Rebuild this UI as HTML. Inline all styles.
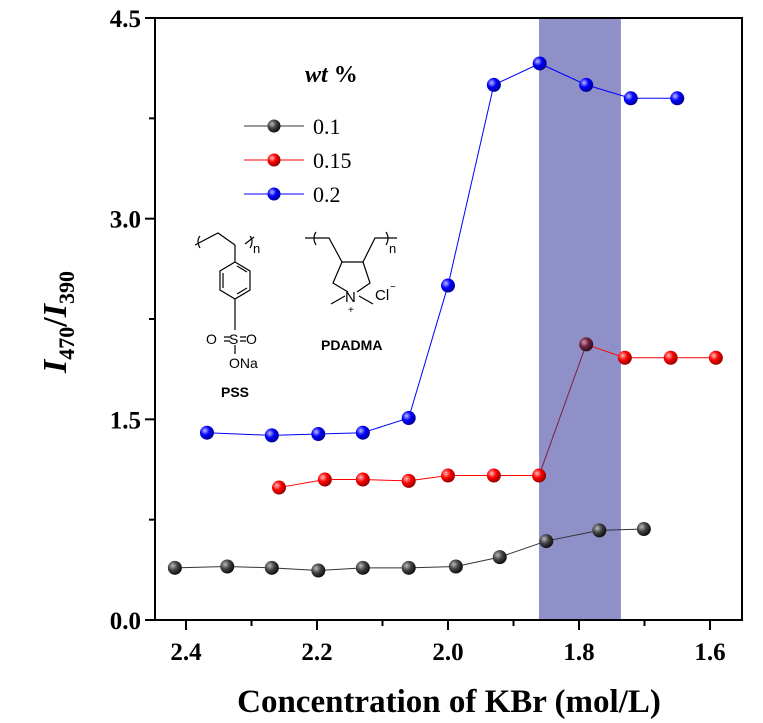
<!DOCTYPE html>
<html><head><meta charset="utf-8"><style>
body{margin:0;background:#fff;}
svg{display:block;font-family:"Liberation Serif",serif;}
.st{font-family:"Liberation Sans",sans-serif;}
</style></head><body>
<svg id="chart" width="763" height="723" viewBox="0 0 763 723" xmlns="http://www.w3.org/2000/svg">
<defs>
<radialGradient id="gk" cx="35%" cy="35%" r="65%"><stop offset="0" stop-color="#bbb"/><stop offset="0.5" stop-color="#444"/><stop offset="1" stop-color="#111"/></radialGradient>
<radialGradient id="gr" cx="35%" cy="35%" r="65%"><stop offset="0" stop-color="#fbb"/><stop offset="0.5" stop-color="#f00"/><stop offset="1" stop-color="#900"/></radialGradient>
<radialGradient id="gb" cx="35%" cy="35%" r="65%"><stop offset="0" stop-color="#bbf"/><stop offset="0.5" stop-color="#00f"/><stop offset="1" stop-color="#009"/></radialGradient>
<radialGradient id="gp" cx="35%" cy="35%" r="65%"><stop offset="0" stop-color="#c9a"/><stop offset="0.5" stop-color="#702040"/><stop offset="1" stop-color="#301020"/></radialGradient>
</defs>
<g id="band"></g>
<g id="series"></g>
<g id="axes"></g>
<g>
<text x="305" y="82" font-size="24" font-weight="bold" font-style="italic">wt <tspan font-style="normal">%</tspan></text>
<g><line x1="244" y1="126" x2="304" y2="126" stroke="#333"/><circle cx="274" cy="126" r="6.5" fill="url(#gk)"/><text x="313" y="134" font-size="22">0.1</text></g>
<g><line x1="244" y1="160" x2="304" y2="160" stroke="#f00"/><circle cx="274" cy="160" r="6.5" fill="url(#gr)"/><text x="313" y="168" font-size="22">0.15</text></g>
<g><line x1="244" y1="194" x2="304" y2="194" stroke="#00f"/><circle cx="274" cy="194" r="6.5" fill="url(#gb)"/><text x="313" y="202" font-size="22">0.2</text></g>
</g>
<g stroke="#000" stroke-width="1.2" fill="none">
<path d="M195 245 L218 233 L235 245 M200 236 q-4 5 0 12 M250 236 q4 5 0 12 M245 244 L254 237 M235 245 L235 262"/>
<path d="M235 262 L250 271 L250 290 L235 299 L220 290 L220 271 Z M237 266 L247 272 M247 288 L237 294 M223 288 L223 273"/>
<path d="M235 299 L235 330 M224 337 L230 337 M224 341 L230 341 M240 337 L246 337 M240 341 L246 341 M235 345 L235 354"/>
</g>
<g class="st" font-size="14">
<text x="253" y="253" font-size="13">n</text>
<text x="206" y="344">O</text><text x="229" y="344">S</text><text x="246" y="344">O</text>
<text x="229" y="368">ONa</text>
<text x="221" y="397" font-weight="bold">PSS</text>
</g>
<g stroke="#000" stroke-width="1.2" fill="none">
<path d="M305 238 L318 238 L329 238 L342 262 L363 262 L375 238 L388 238 L397 238 M316 232 q-4 6 0 13 M386 232 q4 6 0 13"/>
<path d="M342 262 L333 283 L348 292 M363 262 L370 283 L357 292 M345 296 L331 304 M359 296 L373 304"/>
</g>
<g class="st" font-size="15">
<text x="389" y="253" font-size="13">n</text>
<text x="345" y="302">N</text><text x="348" y="313" font-size="10">+</text>
<text x="375" y="300">Cl</text><text x="390" y="290" font-size="10">−</text>
<text x="321" y="350" font-weight="bold" font-size="14">PDADMA</text>
</g>
<text x="449" y="712" font-size="33" font-weight="bold" text-anchor="middle">Concentration of KBr (mol/L)</text>
<text transform="translate(66,322) rotate(-90)" font-size="34" font-weight="bold" text-anchor="middle"><tspan font-style="italic">I</tspan><tspan font-size="22" dy="8">470</tspan><tspan dy="-8">/</tspan><tspan font-style="italic">I</tspan><tspan font-size="22" dy="8">390</tspan></text>
</svg>
<script>
var xTicks=[2.4,2.2,2.0,1.8,1.6];
var yTicks=[0,1.5,3.0,4.5];
var band=[1.861,1.736];
var x01=[2.417,2.337,2.269,2.198,2.130,2.060,1.988,1.921,1.850,1.769,1.701];
var y01=[0.39,0.40,0.39,0.37,0.39,0.39,0.40,0.47,0.59,0.67,0.68];
var x015=[2.258,2.188,2.130,2.060,2.0,1.930,1.861,1.789,1.730,1.660,1.591];
var y015=[0.99,1.05,1.05,1.04,1.08,1.08,1.08,2.06,1.96,1.96,1.96];
var x02=[2.368,2.269,2.198,2.130,2.060,2.0,1.930,1.860,1.789,1.721,1.650];
var y02=[1.40,1.38,1.39,1.40,1.51,2.50,4.0,4.16,4.0,3.9,3.9];
var NS='http://www.w3.org/2000/svg';
var L=155,R=742,T=18,B=620;
function sx(v){return 186+(2.4-v)*655;}
function sy(v){return B-v*(B-T)/4.5;}
function mk(tag,at,p){var e=document.createElementNS(NS,tag);for(var k in at)e.setAttribute(k,at[k]);p.appendChild(e);return e;}
var bgG=document.getElementById('band');
var bd=mk('rect',{x:sx(band[0]),y:T,width:sx(band[1])-sx(band[0]),height:B-T,fill:'#8f90c8'},bgG);


var sg=document.getElementById('series');
function series(xs,ys,col,grad,name,special){
  var g=mk('g',{},sg);
  
  
  for(var i=1;i<xs.length;i++){
    var c=col;
    if(special&&i===7)c='#7a2040';
    mk('line',{x1:sx(xs[i-1]),y1:sy(ys[i-1]),x2:sx(xs[i]),y2:sy(ys[i]),stroke:c,'stroke-width':1},g);
  }
  for(var j=0;j<xs.length;j++){
    var f=grad;
    if(special&&j===7)f='url(#gp)';
    var ci=mk('circle',{cx:sx(xs[j]),cy:sy(ys[j]),r:7,fill:f},g);
    
    
  }
}
series(x01,y01,'#333','url(#gk)','series-0.1',false);
series(x015,y015,'#f00','url(#gr)','series-0.15',true);
series(x02,y02,'#00f','url(#gb)','series-0.2',false);
var ax=document.getElementById('axes');
mk('rect',{x:L,y:T,width:R-L,height:B-T,fill:'none',stroke:'#000','stroke-width':2},ax);
xTicks.forEach(function(v){
  var x=sx(v);
  mk('line',{x1:x,y1:B,x2:x,y2:B+10,stroke:'#000','stroke-width':2},ax);
  var t=mk('text',{x:x,y:B+40,'font-size':25,'font-weight':'bold','text-anchor':'middle'},ax);
  t.textContent=v.toFixed(1);
  
  
  var m=sx(v-0.1);
  if(m<R) mk('line',{x1:m,y1:B,x2:m,y2:B+6,stroke:'#000','stroke-width':2},ax);
});
yTicks.forEach(function(v){
  var y=sy(v);
  mk('line',{x1:L-10,y1:y,x2:L,y2:y,stroke:'#000','stroke-width':2},ax);
  var t=mk('text',{x:L-14,y:y+9,'font-size':25,'font-weight':'bold','text-anchor':'end'},ax);
  t.textContent=v.toFixed(1);
  
  
  if(v<4.5) mk('line',{x1:L-6,y1:sy(v+0.75),x2:L,y2:sy(v+0.75),stroke:'#000','stroke-width':2},ax);
});
</script>
</body></html>
